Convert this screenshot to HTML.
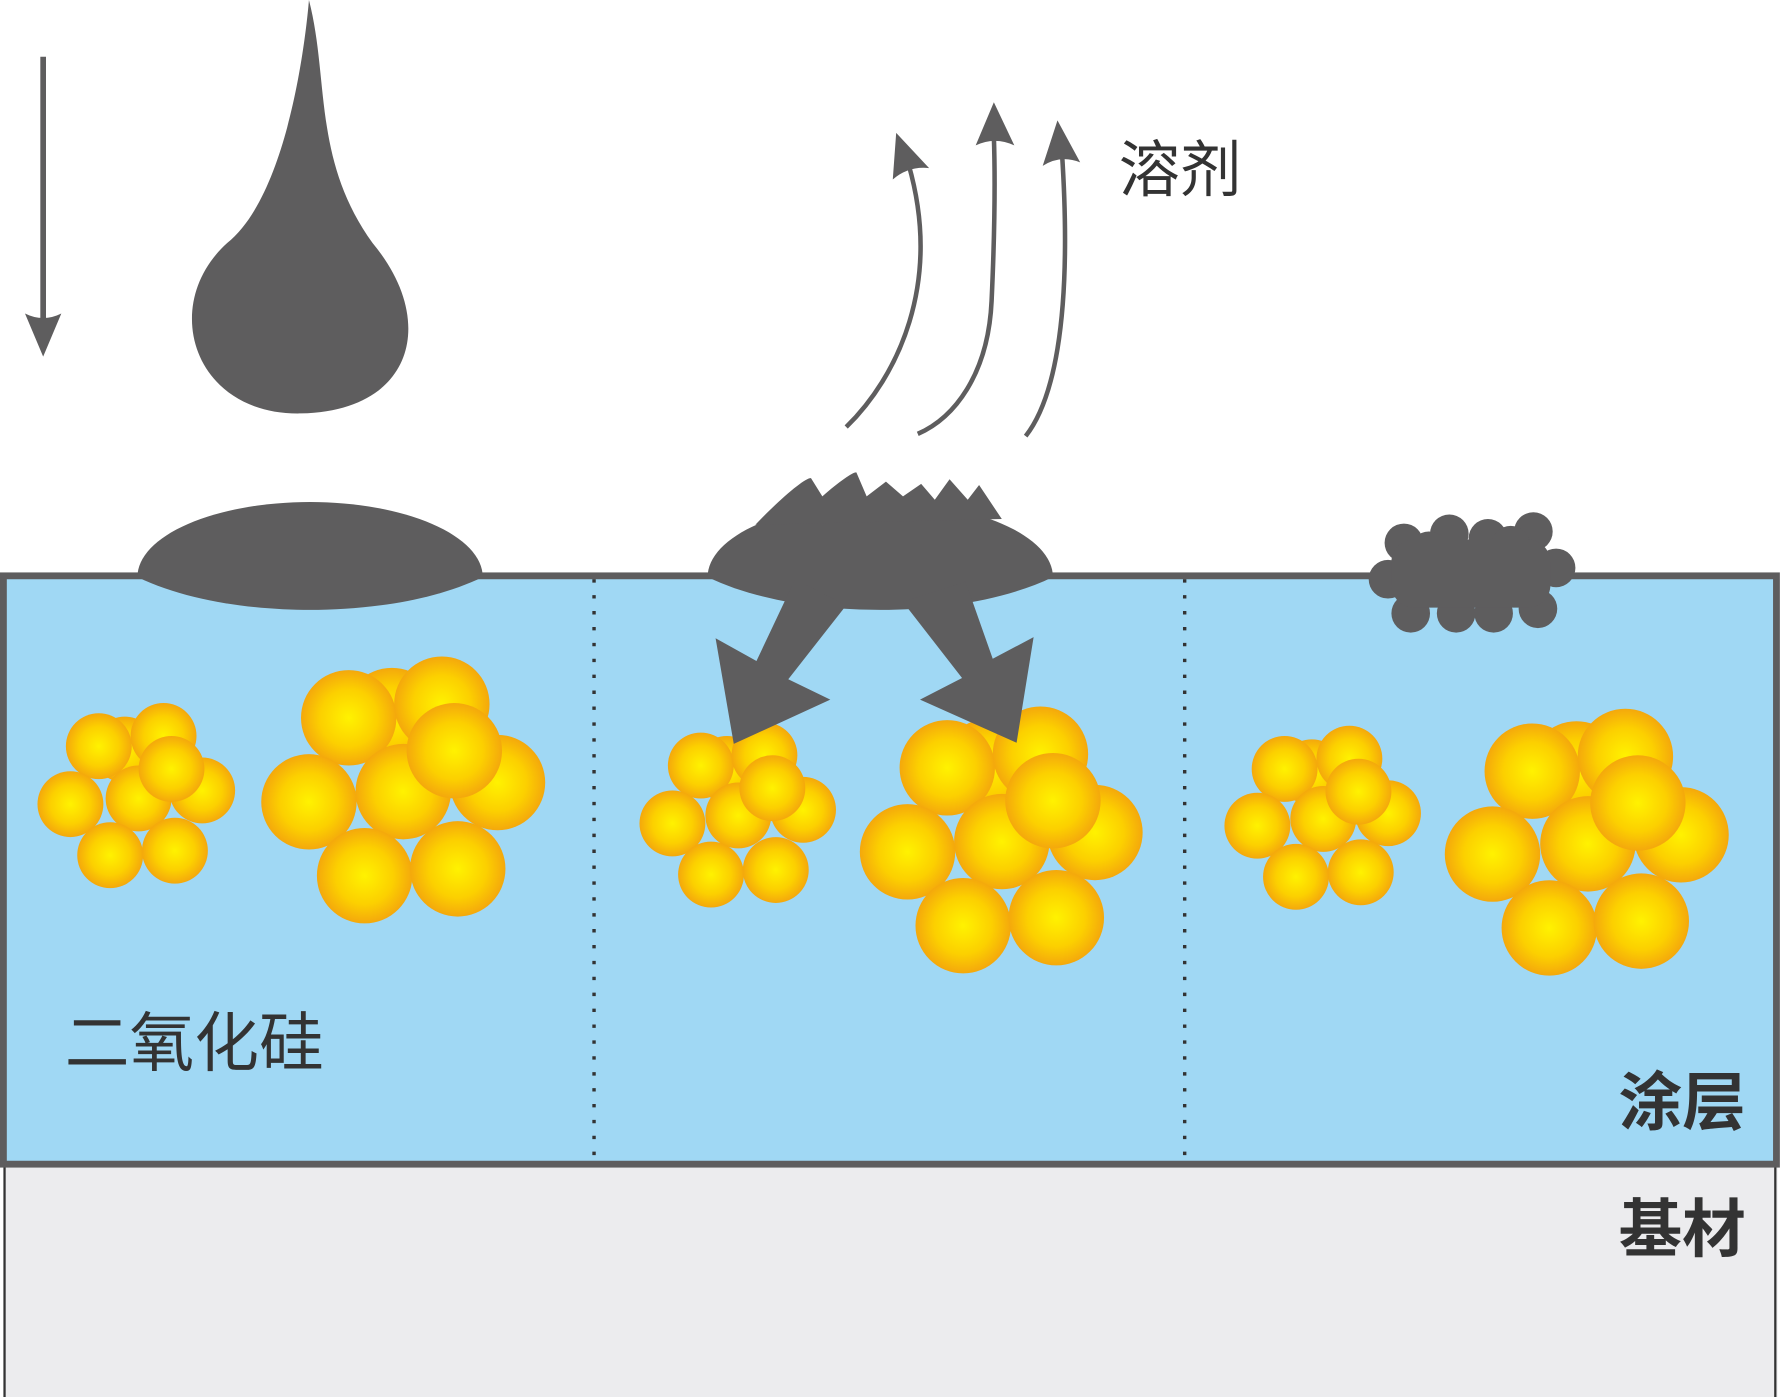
<!DOCTYPE html>
<html><head><meta charset="utf-8"><style>html,body{margin:0;padding:0;background:#fff}svg{display:block}</style></head><body>
<svg width="1781" height="1397" viewBox="0 0 1568 1230" preserveAspectRatio="none" xmlns="http://www.w3.org/2000/svg">
<defs>
<radialGradient id="g" cx="50%" cy="50%" r="50%"><stop offset="0" stop-color="#fff200"/><stop offset="0.6" stop-color="#fcd000"/><stop offset="1" stop-color="#f4a80c"/></radialGradient>
</defs>
<rect x="0" y="0" width="1568" height="1230" fill="#fff"/>
<rect x="3" y="1025" width="1562" height="205" fill="#ececee"/>
<line x1="4" y1="1025" x2="4" y2="1230" stroke="#333" stroke-width="2"/>
<line x1="1563" y1="1025" x2="1563" y2="1230" stroke="#333" stroke-width="2"/>
<rect x="3" y="507" width="1561" height="518" fill="#a0d8f4" stroke="#5e5d5e" stroke-width="6"/>
<line x1="523" y1="510" x2="523" y2="1025" stroke="#333" stroke-width="3" stroke-dasharray="3,11"/>
<line x1="1043" y1="510" x2="1043" y2="1025" stroke="#333" stroke-width="3" stroke-dasharray="3,11"/>

<line x1="38" y1="50" x2="38" y2="285" stroke="#5e5d5e" stroke-width="5"/>
<path d="M22 276 Q38 284 54 276 L38 314 Z" fill="#5e5d5e"/>
<path d="M272 0 C290 70 275 140 328 214 C385 282 365 362 265 364 C170 366 140 268 200 214 C260 166 272 0 272 0 Z" fill="#5e5d5e"/>
<path d="M121 508 A152 66 0 0 1 425 508 C380 530 320 537 273 537 C226 537 166 530 121 508 Z" fill="#5e5d5e"/>

<path d="M623 508 A152 66 0 0 1 927 508 C882 530 822 537 775 537 C728 537 668 530 623 508 Z" fill="#5e5d5e"/>
<path d="M665 462 C690 436 710 420 714 421 L724 437 C740 423 752 415 754 416 L763 437 L780 424 L795 437 L811 426 L823 440 L836 422 L852 440 L862 427 L882 457 Z" fill="#5e5d5e"/>

<g fill="none" stroke="#5e5d5e" stroke-width="4">
<path d="M745 376 C790 332 830 250 800 145"/>
<path d="M808 382 C840 368 870 330 873 265 C876 200 876 150 875 120"/>
<path d="M903 384 C925 356 945 290 935 135"/>
</g>
<g fill="#5e5d5e">
<path d="M789 117 L818 148 Q800 146 786 158 Z"/>
<path d="M875 90 L893 128 Q876 120 859 128 Z"/>
<path d="M931 106 L951 143 Q934 136 918 146 Z"/>
</g>
<text x="985" y="168" font-family="'Liberation Sans','Noto Sans CJK SC',sans-serif" font-size="54" fill="#333">溶剂</text>

<g fill="#5e5d5e">
<circle cx="1236" cy="478" r="17"/><circle cx="1276" cy="470" r="17"/><circle cx="1310" cy="474" r="17"/><circle cx="1350" cy="468" r="17"/>
<circle cx="1222" cy="510" r="17"/><circle cx="1370" cy="500" r="17"/><circle cx="1242" cy="540" r="17"/><circle cx="1282" cy="540" r="17"/>
<circle cx="1315" cy="540" r="17"/><circle cx="1354" cy="536" r="17"/><circle cx="1258" cy="485" r="17"/><circle cx="1330" cy="480" r="17"/>
<rect x="1225" y="475" width="140" height="60" rx="20"/>
</g>

<g fill="url(#g)">
<circle cx="110" cy="660" r="29"/><circle cx="87" cy="657" r="29"/><circle cx="144" cy="648" r="29"/><circle cx="178" cy="696" r="29"/><circle cx="62" cy="708" r="29"/><circle cx="122" cy="703" r="29"/><circle cx="97" cy="753" r="29"/><circle cx="154" cy="749" r="29"/><circle cx="151" cy="677" r="29"/>
<circle cx="345" cy="630" r="42"/><circle cx="307" cy="632" r="42"/><circle cx="389" cy="620" r="42"/><circle cx="438" cy="689" r="42"/><circle cx="272" cy="706" r="42"/><circle cx="355" cy="697" r="42"/><circle cx="321" cy="771" r="42"/><circle cx="403" cy="765" r="42"/><circle cx="400" cy="661" r="42"/>
<circle cx="640" cy="677" r="29"/><circle cx="617" cy="674" r="29"/><circle cx="673" cy="665" r="29"/><circle cx="707" cy="713" r="29"/><circle cx="592" cy="725" r="29"/><circle cx="650" cy="718" r="29"/><circle cx="626" cy="770" r="29"/><circle cx="683" cy="766" r="29"/><circle cx="680" cy="694" r="29"/>
<circle cx="872" cy="674" r="42"/><circle cx="834" cy="676" r="42"/><circle cx="916" cy="664" r="42"/><circle cx="964" cy="733" r="42"/><circle cx="799" cy="750" r="42"/><circle cx="882" cy="741" r="42"/><circle cx="848" cy="815" r="42"/><circle cx="930" cy="808" r="42"/><circle cx="927" cy="705" r="42"/>
<circle cx="1155" cy="680" r="29"/><circle cx="1131" cy="677" r="29"/><circle cx="1188" cy="668" r="29"/><circle cx="1222" cy="716" r="29"/><circle cx="1107" cy="727" r="29"/><circle cx="1165" cy="721" r="29"/><circle cx="1141" cy="772" r="29"/><circle cx="1198" cy="768" r="29"/><circle cx="1196" cy="697" r="29"/>
<circle cx="1388" cy="677" r="42"/><circle cx="1349" cy="679" r="42"/><circle cx="1431" cy="666" r="42"/><circle cx="1480" cy="735" r="42"/><circle cx="1314" cy="752" r="42"/><circle cx="1398" cy="743" r="42"/><circle cx="1364" cy="817" r="42"/><circle cx="1445" cy="811" r="42"/><circle cx="1442" cy="707" r="42"/>
</g>

<path d="M700 510 L666 582 L630 562 L646 655 L731 616 L694 598 L745 533 Z" fill="#5e5d5e"/>
<path d="M795 530 L847 597 L810 616 L895 654 L910 561 L874 580 L850 512 Z" fill="#5e5d5e"/>

<text x="57" y="938" font-family="'Liberation Sans','Noto Sans CJK SC',sans-serif" font-size="57" fill="#333">二氧化硅</text>
<text x="1537" y="990" text-anchor="end" font-family="'Liberation Sans','Noto Sans CJK SC',sans-serif" font-weight="bold" font-size="56" fill="#333">涂层</text>
<text x="1537" y="1102" text-anchor="end" font-family="'Liberation Sans','Noto Sans CJK SC',sans-serif" font-weight="bold" font-size="56" fill="#333">基材</text>
</svg>
</body></html>
